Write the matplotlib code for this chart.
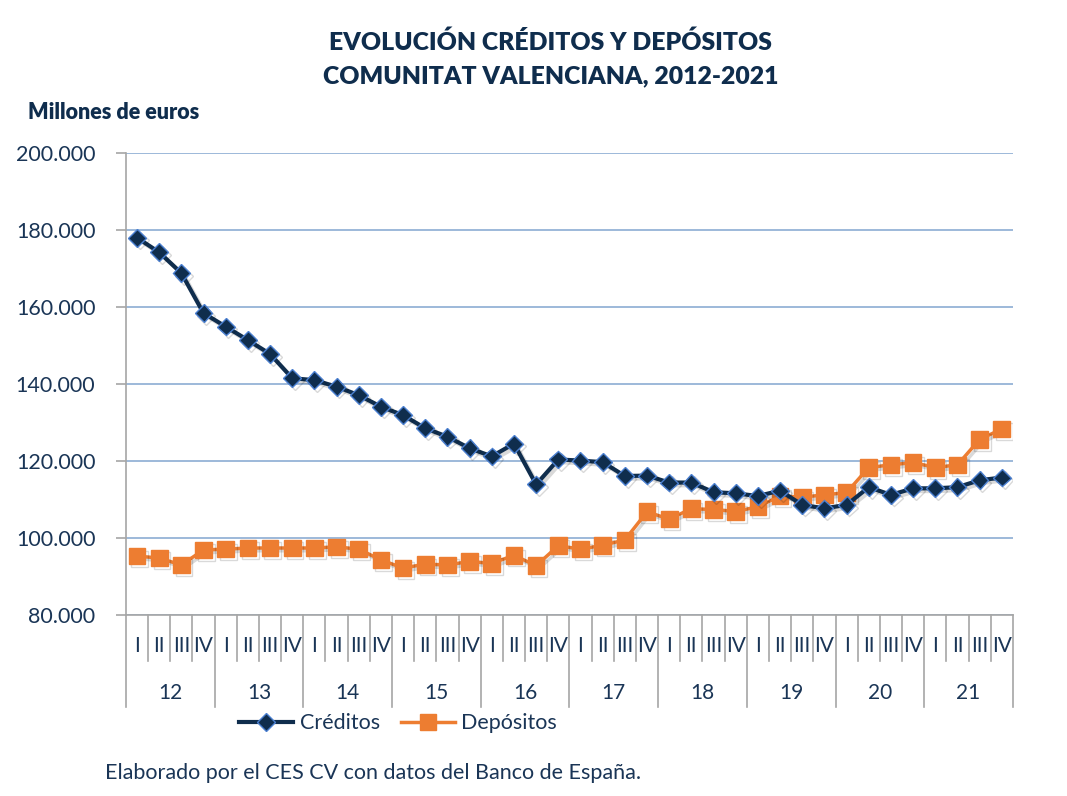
import numpy as np
import matplotlib
matplotlib.use("Agg")
from matplotlib import pyplot as plt
import matplotlib.patheffects as pe

plt.rcParams['font.family'] = ['Lato', 'DejaVu Sans']

# datos trimestrales 2012-2021 (millones de euros)
years = ['12', '13', '14', '15', '16', '17', '18', '19', '20', '21']
quarters = ['I', 'II', 'III', 'IV']

creditos = [178.0, 174.2, 168.8, 158.4, 154.9, 151.4, 147.8, 141.5,
            141.0, 139.3, 137.1, 134.1, 131.9, 128.5, 126.3, 123.3,
            121.2, 124.5, 113.9, 120.4, 120.1, 119.7, 116.1, 116.2,
            114.4, 114.4, 111.9, 111.6, 110.9, 112.3, 108.6, 107.7,
            108.6, 113.2, 111.2, 112.9, 112.9, 113.2, 115.0, 115.7]
depositos = [95.3, 94.8, 93.0, 96.9, 97.1, 97.4, 97.4, 97.4,
             97.4, 97.7, 97.1, 94.3, 92.2, 93.2, 93.0, 93.9,
             93.4, 95.5, 92.8, 98.0, 97.1, 98.1, 99.5, 106.8,
             104.9, 107.6, 107.4, 106.9, 108.1, 110.9, 110.6, 111.2,
             111.8, 118.3, 119.0, 119.6, 118.3, 119.0, 125.6, 128.3]
creditos = np.array(creditos) * 1000
depositos = np.array(depositos) * 1000

navy = '#0f2d4d'
orange = '#ed7d31'
grid_c = '#95b3d7'
axis_c = '#a6a6a6'
txt_c = '#1a3556'

fig = plt.figure(figsize=(10.67, 7.96), dpi=100)
ax = fig.add_axes([0.118, 0.2274, 0.8313, 0.5804])

x = np.arange(len(creditos))
shadow = [pe.SimpleLineShadow(offset=(2, -2), alpha=0.15), pe.Normal()]
ax.plot(x, depositos, color=orange, lw=2.5, marker='s', ms=12,
        mfc=orange, mec=orange, zorder=3, path_effects=shadow)
ax.plot(x, creditos, color=navy, lw=3, marker='D', ms=9,
        mfc=navy, mec='#4a7fd0', mew=1, zorder=4, path_effects=shadow)
# entradas de leyenda sin sombra
ax.plot([], [], color=navy, lw=3, marker='D', ms=9, mfc=navy, mec='#4a7fd0',
        mew=1, label='Créditos')
ax.plot([], [], color=orange, lw=2.5, marker='s', ms=12, mfc=orange, mec=orange,
        label='Depósitos')

ax.set_xlim(-0.5, len(x) - 0.5)
ax.set_ylim(80000, 200000)
yt = np.arange(80000, 200001, 20000)
ax.set_yticks(yt)
ax.set_yticklabels([f'{v:,.0f}'.replace(',', '.') for v in yt], fontsize=15.5, color=txt_c)
ax.yaxis.grid(True, color=grid_c, lw=1.3)
ax.set_axisbelow(True)
ax.tick_params(axis='y', length=7, color=axis_c, pad=15, width=1.2)
ax.set_xticks([])
for s in ['top', 'right']:
    ax.spines[s].set_visible(False)
ax.spines['left'].set_color(axis_c)
ax.spines['bottom'].set_color(axis_c)
ax.spines['left'].set_linewidth(1.2)
ax.spines['bottom'].set_linewidth(1.2)

# eje de categorias: trimestres y años
tr = ax.get_xaxis_transform()
for i in range(len(x)):
    ax.text(i, -0.067, quarters[i % 4], transform=tr, ha='center', va='center',
            fontsize=15, color=txt_c)
    if i % 4 != 0:
        ax.plot([i - 0.5, i - 0.5], [0, -0.1], transform=tr, color=axis_c,
                lw=1.2, clip_on=False)
for j, yr in enumerate(years):
    ax.plot([4 * j - 0.5, 4 * j - 0.5], [0, -0.2], transform=tr, color=axis_c,
            lw=1.2, clip_on=False)
    ax.text(4 * j + 1.5, -0.168, yr, transform=tr, ha='center', va='center',
            fontsize=15, color=txt_c)
ax.plot([len(x) - 0.5, len(x) - 0.5], [0, -0.2], transform=tr, color=axis_c,
        lw=1.2, clip_on=False)

leg = ax.legend(loc='center', bbox_to_anchor=(0.307, -0.234),
                ncol=2, frameon=False, fontsize=15.5, handlelength=2.5,
                columnspacing=1.0, handletextpad=0.3)
for t in leg.get_texts():
    t.set_color(txt_c)

fig.text(0.516, 0.947, 'EVOLUCIÓN CRÉDITOS Y DEPÓSITOS', ha='center', va='center',
         fontsize=17.8, fontweight='heavy', color=navy)
fig.text(0.516, 0.904, 'COMUNITAT VALENCIANA, 2012-2021', ha='center', va='center',
         fontsize=17.8, fontweight='heavy', color=navy)
fig.text(0.026, 0.859, 'Millones de euros', ha='left', va='center',
         fontsize=15.5, fontweight='heavy', color=navy)
fig.text(0.098, 0.029, 'Elaborado por el CES CV con datos del Banco de España.',
         ha='left', va='center', fontsize=15.5, color=txt_c)

fig.savefig('out.png', dpi=100)
